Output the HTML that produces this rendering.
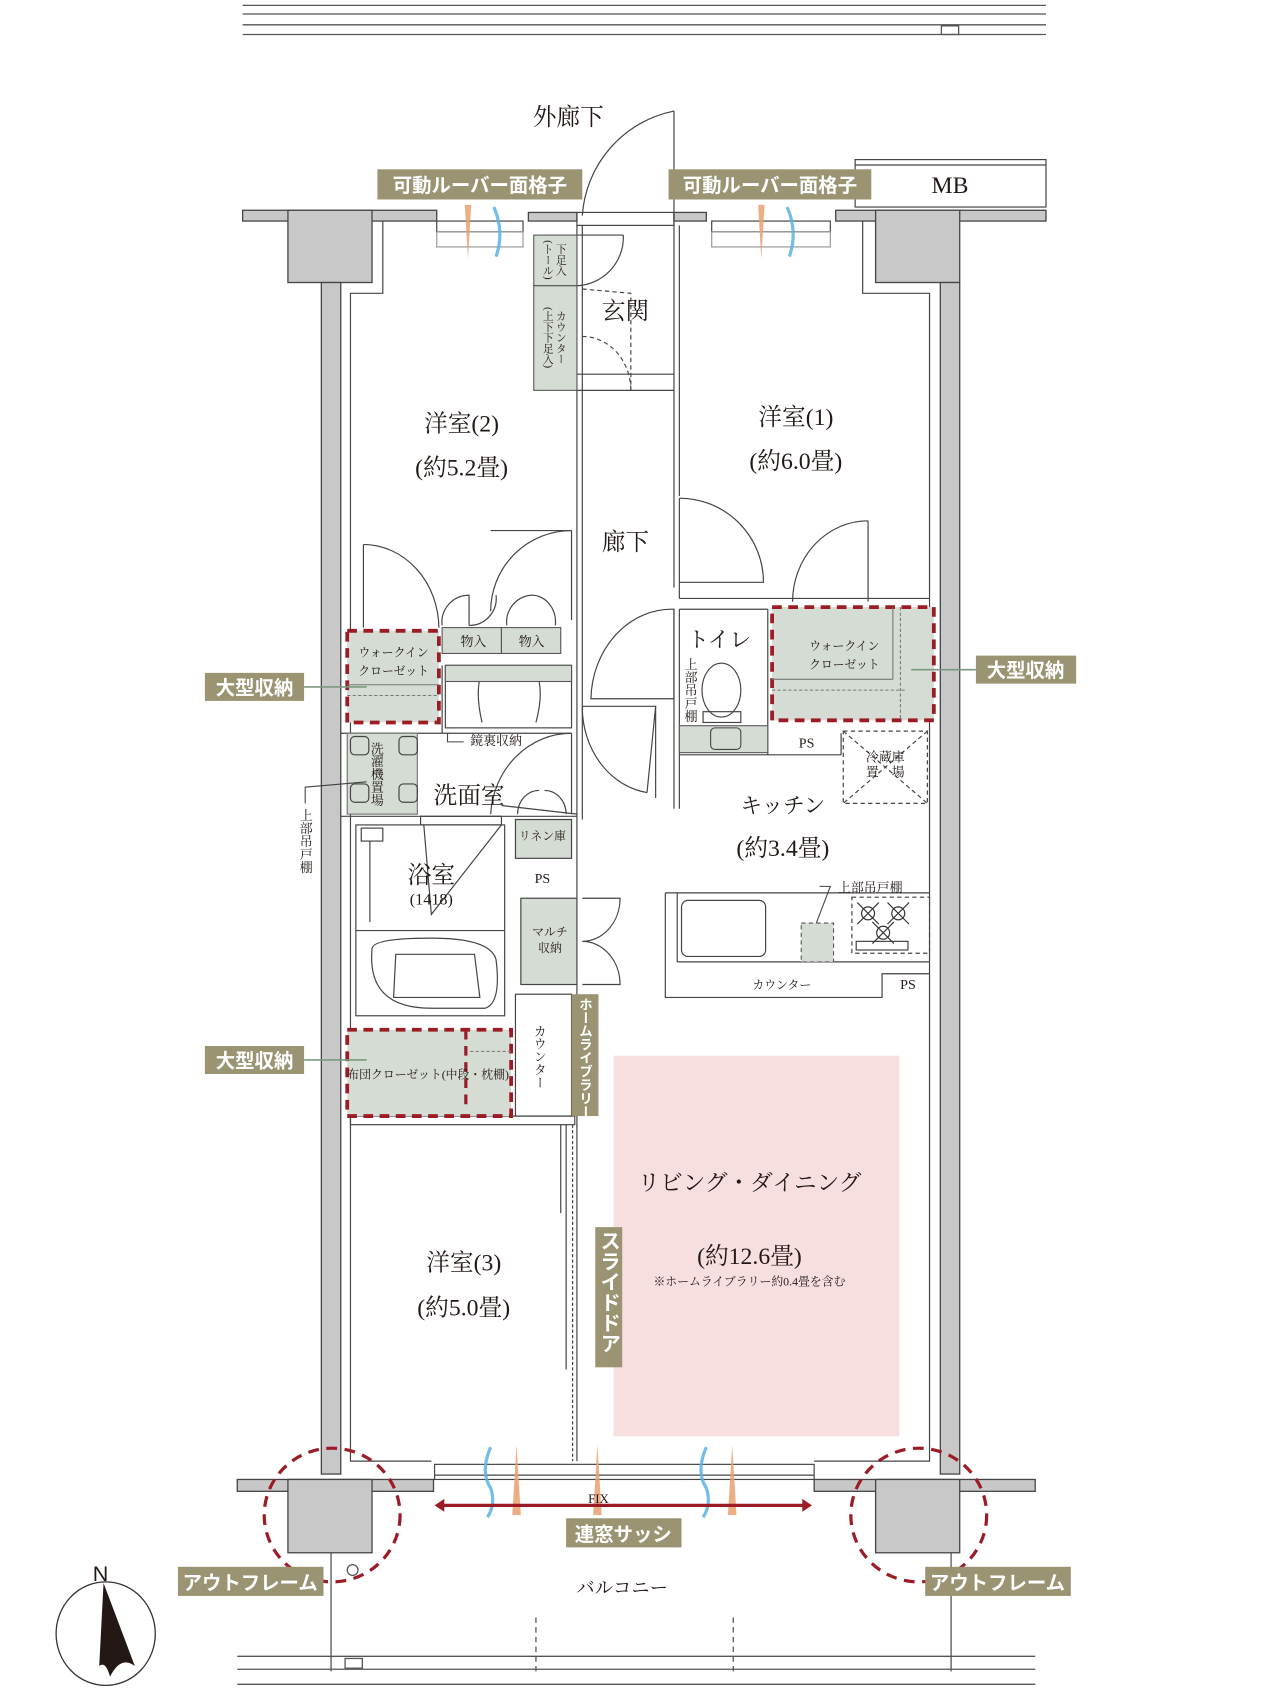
<!DOCTYPE html>
<html><head><meta charset="utf-8"><style>
html,body{margin:0;padding:0;background:#fff}
svg{display:block}
.r{font-family:"Liberation Serif","Noto Serif CJK SC",serif;fill:#231815}
.s{font-family:"Liberation Sans","Noto Sans CJK JP",sans-serif;fill:#231815}
.w{font-family:"Liberation Sans","Noto Sans CJK JP",sans-serif;fill:#fff;font-weight:bold}
</style></head><body>
<svg width="1280" height="1688" viewBox="0 0 1187 1565.4" xmlns="http://www.w3.org/2000/svg">
<g fill="none" stroke="#555" stroke-width="1.2">
<line x1="225" y1="5" x2="970" y2="5"/><line x1="225" y1="13" x2="970" y2="13"/>
<line x1="225" y1="23" x2="970" y2="23"/><line x1="225" y1="32" x2="970" y2="32"/>
<rect x="873" y="24" width="16" height="8"/>
<line x1="220" y1="1536" x2="960" y2="1536"/><line x1="220" y1="1548" x2="960" y2="1548"/>
<line x1="220" y1="1562" x2="960" y2="1562"/>
<rect x="320" y="1538" width="16" height="9"/>
<line x1="307" y1="1440" x2="307" y2="1550"/><line x1="882" y1="1440" x2="882" y2="1550"/>
<line x1="497" y1="1500" x2="497" y2="1550" stroke-dasharray="5,4"/>
<line x1="680" y1="1500" x2="680" y2="1550" stroke-dasharray="5,4"/>
<circle cx="327" cy="1456" r="5"/>
</g>
<g fill="#c8c8c8" stroke="#444" stroke-width="1.2">
<rect x="225" y="195" width="180" height="10"/>
<rect x="490" y="197" width="45" height="8"/>
<rect x="625" y="197" width="30" height="8"/>
<rect x="775" y="195" width="195" height="10"/>
<rect x="267" y="195" width="78" height="67"/>
<rect x="298" y="262" width="18" height="1105"/>
<rect x="812" y="195" width="78" height="67"/>
<rect x="872" y="262" width="18" height="1105"/>
<rect x="220" y="1372" width="182" height="11"/>
<rect x="755" y="1372" width="205" height="11"/>
<rect x="267" y="1372" width="78" height="68"/>
<rect x="812" y="1372" width="78" height="68"/>
</g>
<g fill="none" stroke="#444" stroke-width="1.1">
<polyline points="355,205 355,272 325,272 325,1355 400,1355"/>
<polyline points="800,205 800,272 862,272 862,1355 755,1355"/>
<rect x="793" y="148" width="177" height="44" fill="#fff"/>
<line x1="793" y1="153" x2="970" y2="153"/>
<rect x="403" y="1358" width="352" height="14"/>
<line x1="403" y1="1368" x2="755" y2="1368"/>
<rect x="535" y="197" width="90" height="12"/>
<line x1="625" y1="103" x2="625" y2="210"/>
<path d="M625,103 A106,106 0 0 0 540,200"/>
<rect x="405" y="205" width="80" height="10"/><rect x="660" y="205" width="110" height="10"/>
<rect x="405" y="215" width="80" height="14" stroke="#999"/><rect x="660" y="215" width="110" height="14" stroke="#999"/>
<line x1="535" y1="209" x2="535" y2="1045"/><line x1="540" y1="209" x2="540" y2="760"/>
<line x1="625" y1="209" x2="625" y2="545"/><line x1="630" y1="209" x2="630" y2="460"/>
<line x1="535" y1="362" x2="625" y2="362"/><line x1="535" y1="347" x2="625" y2="347"/>
<path d="M535,218 L578,218 M578,218 A45,45 0 0 1 535,265"/>
<path d="M540,268 L585,272 L585,362" stroke-dasharray="4,3"/>
<path d="M540,312 A45,50 0 0 1 585,362" stroke-dasharray="4,3"/>
<line x1="530" y1="492" x2="530" y2="575"/>
<path d="M530,492 A75,75 0 0 0 455,567"/>
<line x1="530" y1="492" x2="455" y2="492"/>
<path d="M337,505 A70,78 0 0 1 407,582"/><line x1="337" y1="505" x2="337" y2="582"/>
<path d="M410,580 A25,25 0 0 1 435,552 L435,580 M435,580 A25,25 0 0 0 460,552"/>
<path d="M470,580 A25,25 0 0 1 492,552 M515,580 A22,25 0 0 0 492,552"/>
<line x1="630" y1="462" x2="630" y2="555"/><path d="M630,462 A78,78 0 0 1 708,540 L630,540"/>
<line x1="805" y1="483" x2="805" y2="558"/><path d="M805,483 A70,75 0 0 0 735,558"/>
<line x1="630" y1="555" x2="862" y2="555"/>
<path d="M548,648 A75,85 0 0 1 625,565 L625,648 Z"/>
<line x1="625" y1="565" x2="625" y2="750"/><line x1="630" y1="565" x2="630" y2="750"/>
<line x1="630" y1="565" x2="712" y2="565"/><line x1="712" y1="565" x2="712" y2="700"/>
<line x1="630" y1="700" x2="780" y2="700"/><line x1="780" y1="680" x2="780" y2="700"/>
<path d="M540,655 L608,655 L600,735 M540,655 A70,80 0 0 0 600,735"/>
<line x1="608" y1="655" x2="608" y2="740"/>
<ellipse cx="669" cy="640" rx="18" ry="25"/>
<rect x="652" y="660" width="35" height="10"/>
<rect x="782" y="678" width="78" height="67" stroke-dasharray="4,3"/>
<line x1="782" y1="678" x2="860" y2="745" stroke-dasharray="4,3"/><line x1="860" y1="678" x2="782" y2="745" stroke-dasharray="4,3"/>
<polyline points="617,828 617,925 818,925 818,903 862,903"/>
<line x1="617" y1="828" x2="862" y2="828"/><line x1="628" y1="892" x2="862" y2="892"/><line x1="628" y1="828" x2="628" y2="892"/>
<rect x="632" y="835" width="78" height="52" rx="6"/>
<rect x="790" y="832" width="72" height="52" stroke-dasharray="4,3"/>
<rect x="794" y="873" width="48" height="8"/>
<g stroke="#333"><circle cx="805" cy="847" r="6"/><circle cx="833" cy="847" r="6"/><circle cx="819" cy="865" r="6"/>
<path d="M795,837 L815,857 M815,837 L795,857 M823,837 L843,857 M843,837 L823,857 M809,855 L829,875 M829,855 L809,875"/></g>
<rect x="413" y="617" width="117" height="58"/>
<line x1="410" y1="617" x2="410" y2="680"/><line x1="316" y1="680" x2="530" y2="680"/>
<path d="M447,623 L497,623 M447,623 Q440,640 447,670 M497,623 Q505,640 497,670"/>
<path d="M530,680 A75,80 0 0 0 455,755"/><line x1="530" y1="680" x2="530" y2="755"/>
<path d="M480,755 A20,22 0 0 1 500,733 M525,755 A20,22 0 0 0 505,733"/>
<line x1="465" y1="747" x2="535" y2="755"/>
<line x1="316" y1="757" x2="535" y2="757"/>
<rect x="330" y="765" width="138" height="177"/>
<rect x="335" y="768" width="20" height="12"/><line x1="343" y1="780" x2="343" y2="855"/>
<line x1="330" y1="863" x2="468" y2="863"/>
<rect x="390" y="757" width="75" height="8"/>
<path d="M393,765 L400,848 L465,765"/>
<path d="M345,880 Q340,935 400,935 L450,935 Q465,930 460,890 Q455,870 400,870 Q345,870 345,880 Z"/>
<path d="M367,885 L440,885 L445,925 L365,925 Z"/>
<rect x="478" y="760" width="52" height="36" fill="#d5dcd3"/>
<rect x="483" y="833" width="52" height="80" fill="#d5dcd3"/>
<path d="M540,833 L575,833 A35,40 0 0 1 540,873 M540,913 L575,913 A35,40 0 0 0 540,873"/>
<rect x="478" y="922" width="52" height="113"/>
<rect x="325" y="1035" width="208" height="8"/>
<line x1="520" y1="1043" x2="520" y2="1125"/><line x1="525" y1="1043" x2="525" y2="1270"/>
<line x1="531" y1="1043" x2="531" y2="1355" stroke-dasharray="3,2"/><line x1="535" y1="1043" x2="535" y2="1355"/>
<rect x="322" y="680" width="65" height="75" fill="#d5dcd3" stroke="#777"/>
<rect x="325" y="683" width="17" height="17" rx="4"/><rect x="370" y="683" width="17" height="17" rx="4"/>
<rect x="325" y="727" width="17" height="17" rx="4"/><rect x="370" y="727" width="17" height="17" rx="4"/>
</g>
<g stroke="#555" stroke-width="1" fill="#d5dcd3">
<rect x="495" y="218" width="40" height="47"/><rect x="495" y="265" width="40" height="97"/>
<rect x="410" y="582" width="55" height="24"/><rect x="465" y="582" width="55" height="24"/>
<rect x="413" y="617" width="117" height="15"/>
<rect x="630" y="673" width="82" height="25"/>
<rect x="743" y="856" width="30" height="36" stroke-dasharray="4,3"/>
</g>
<rect x="659" y="675" width="28" height="20" rx="4" fill="none" stroke="#444"/>
<g stroke="#9b1c24" stroke-width="3.5" stroke-dasharray="9,6" fill="#d5dcd3">
<rect x="322" y="585" width="85" height="85"/>
<rect x="716" y="563" width="150" height="105"/>
<rect x="322" y="955" width="152" height="80"/>
</g>
<g stroke="#777" fill="none" stroke-width="1"><line x1="716" y1="630" x2="828" y2="630"/><line x1="828" y1="563" x2="828" y2="630"/>
<line x1="716" y1="640" x2="840" y2="640" stroke-dasharray="3,2"/><line x1="835" y1="563" x2="835" y2="668" stroke-dasharray="3,2"/>
<line x1="322" y1="645" x2="407" y2="645" stroke-dasharray="3,2"/><line x1="322" y1="635" x2="407" y2="635"/>
<line x1="432" y1="955" x2="432" y2="1030" stroke="#9b1c24" stroke-width="3" stroke-dasharray="9,6"/>
<line x1="436" y1="975" x2="474" y2="975" stroke-dasharray="3,2"/></g>
<rect x="569" y="979" width="265" height="353" fill="#f7dfe0"/>
<g opacity="0.85">
<path d="M431,190 L437,190 L434,240 Z" fill="#e8a070"/><path d="M703,190 L709,190 L706,240 Z" fill="#e8a070"/>
<path d="M458,192 Q468,215 460,238" stroke="#5ab3e3" stroke-width="3" fill="none"/>
<path d="M730,192 Q740,215 732,238" stroke="#5ab3e3" stroke-width="3" fill="none"/>
<path d="M475,1405 L479,1340 L483,1405 Z" fill="#e8a070"/><path d="M550,1405 L554,1340 L558,1405 Z" fill="#e8a070"/>
<path d="M675,1405 L679,1340 L683,1405 Z" fill="#e8a070"/>
<path d="M455,1342 Q445,1365 455,1380 Q460,1395 452,1407" stroke="#5ab3e3" stroke-width="3" fill="none"/>
<path d="M655,1342 Q645,1365 655,1380 Q660,1395 652,1407" stroke="#5ab3e3" stroke-width="3" fill="none"/>
</g>
<path d="M410,1396 L746,1396" stroke="#9b1c24" stroke-width="3"/>
<path d="M403,1396 L412,1390 L412,1402 Z M753,1396 L744,1390 L744,1402 Z" fill="#9b1c24"/>
<g fill="none" stroke="#9b1c24" stroke-width="3" stroke-dasharray="10,7">
<ellipse cx="308" cy="1405" rx="63" ry="62"/><ellipse cx="852" cy="1405" rx="63" ry="62"/>
</g>
<g stroke="#7a9a80" stroke-width="1.5"><line x1="282" y1="637" x2="340" y2="637"/><line x1="845" y1="621" x2="905" y2="621"/><line x1="282" y1="983" x2="340" y2="983"/></g>
<g stroke="#444" stroke-width="1" fill="none"><polyline points="283,745 283,730 340,725"/><polyline points="760,822 770,822 757,856"/><polyline points="415,680 415,688 430,688"/></g>
<g fill="#9a9472">
<rect x="350" y="157" width="190" height="28"/><rect x="620" y="157" width="188" height="28"/>
<rect x="190" y="624" width="92" height="26"/><rect x="905" y="608" width="93" height="26"/><rect x="190" y="970" width="92" height="26"/>
<rect x="530" y="922" width="25" height="113"/><rect x="552" y="1138" width="25" height="130"/>
<rect x="525" y="1408" width="107" height="27"/>
<rect x="165" y="1453" width="135" height="27"/><rect x="858" y="1453" width="135" height="27"/>
</g>
<g class="w" font-size="18">
<text x="445" y="178" text-anchor="middle">可動ルーバー面格子</text>
<text x="714" y="178" text-anchor="middle">可動ルーバー面格子</text>
<text x="236" y="644" text-anchor="middle">大型収納</text>
<text x="951" y="628" text-anchor="middle">大型収納</text>
<text x="236" y="990" text-anchor="middle">大型収納</text>
<text x="578" y="1429" text-anchor="middle">連窓サッシ</text>
<text x="232" y="1474" text-anchor="middle">アウトフレーム</text>
<text x="925" y="1474" text-anchor="middle">アウトフレーム</text>
<text x="542" y="925" font-size="12.5" style="writing-mode:vertical-rl">ホームライブラリー</text>
<text x="564" y="1141" font-size="19" style="writing-mode:vertical-rl">スライドドア</text>
</g>
<g class="r">
<text x="881" y="179" font-size="22" text-anchor="middle">MB</text>
<text x="527" y="116" font-size="22" text-anchor="middle">外廊下</text>
<text x="580" y="296" font-size="22" text-anchor="middle">玄関</text>
<text x="428" y="400" font-size="22" text-anchor="middle">洋室(2)</text>
<text x="428" y="441" font-size="22" text-anchor="middle">(約5.2畳)</text>
<text x="738" y="394" font-size="22" text-anchor="middle">洋室(1)</text>
<text x="738" y="435" font-size="22" text-anchor="middle">(約6.0畳)</text>
<text x="580" y="510" font-size="22" text-anchor="middle">廊下</text>
<text x="667" y="600" font-size="20" text-anchor="middle">トイレ</text>
<text x="726" y="754" font-size="20" text-anchor="middle">キッチン</text>
<text x="726" y="794" font-size="22" text-anchor="middle">(約3.4畳)</text>
<text x="435" y="745" font-size="22" text-anchor="middle">洗面室</text>
<text x="400" y="819" font-size="22" text-anchor="middle">浴室</text>
<text x="400" y="839" font-size="15" text-anchor="middle">(1418)</text>
<text x="430" y="1178" font-size="22" text-anchor="middle">洋室(3)</text>
<text x="430" y="1220" font-size="22" text-anchor="middle">(約5.0畳)</text>
<text x="695" y="1104" font-size="21" text-anchor="middle">リビング・ダイニング</text>
<text x="695" y="1172" font-size="22" text-anchor="middle">(約12.6畳)</text>
<text x="695" y="1192" font-size="11" text-anchor="middle">※ホームライブラリー約0.4畳を含む</text>
<text x="577" y="1478" font-size="17" text-anchor="middle">バルコニー</text>
<text x="555" y="1394" font-size="12" text-anchor="middle">FIX</text>
<text x="748" y="693" font-size="13" text-anchor="middle">PS</text>
<text x="503" y="819" font-size="13" text-anchor="middle">PS</text>
<text x="842" y="917" font-size="13" text-anchor="middle">PS</text>
<text x="365" y="609" font-size="11" text-anchor="middle">ウォークイン</text>
<text x="365" y="626" font-size="11" text-anchor="middle">クローゼット</text>
<text x="783" y="603" font-size="11" text-anchor="middle">ウォークイン</text>
<text x="783" y="620" font-size="11" text-anchor="middle">クローゼット</text>
<text x="439" y="599" font-size="12" text-anchor="middle">物入</text>
<text x="493" y="599" font-size="12" text-anchor="middle">物入</text>
<text x="460" y="691" font-size="12" text-anchor="middle">鏡裏収納</text>
<text x="503" y="779" font-size="11" text-anchor="middle">リネン庫</text>
<text x="510" y="868" font-size="11" text-anchor="middle">マルチ</text>
<text x="510" y="883" font-size="11" text-anchor="middle">収納</text>
<text x="821" y="706" font-size="12" text-anchor="middle">冷蔵庫</text>
<text x="821" y="720" font-size="12" text-anchor="middle">置　場</text>
<text x="807" y="827" font-size="12" text-anchor="middle">上部吊戸棚</text>
<text x="725" y="917" font-size="11" text-anchor="middle">カウンター</text>
<text x="397" y="1000" font-size="11" text-anchor="middle">布団クローゼット(中段・枕棚)</text>
<g font-size="12" style="writing-mode:vertical-rl" text-anchor="middle">
<text x="283" y="780">上部吊戸棚</text>
<text x="640" y="640">上部吊戸棚</text>
<text x="349" y="718">洗濯機置場</text>
<text x="500" y="980">カウンター</text>
<text x="520" y="241" font-size="10">下足入</text>
<text x="508" y="241" font-size="10">(トール)</text>
<text x="520" y="313" font-size="10">カウンター</text>
<text x="508" y="313" font-size="10">(上下下足入)</text>
</g>
</g>
<ellipse cx="98" cy="1515" rx="46" ry="48" fill="none" stroke="#333" stroke-width="1.2"/>
<path d="M96,1468 L125,1545 Q112,1535 102,1555 Q98,1540 92,1545 Z" fill="#231815"/>
<text x="86" y="1466" class="s" font-size="20">N</text>
</svg>
</body></html>
